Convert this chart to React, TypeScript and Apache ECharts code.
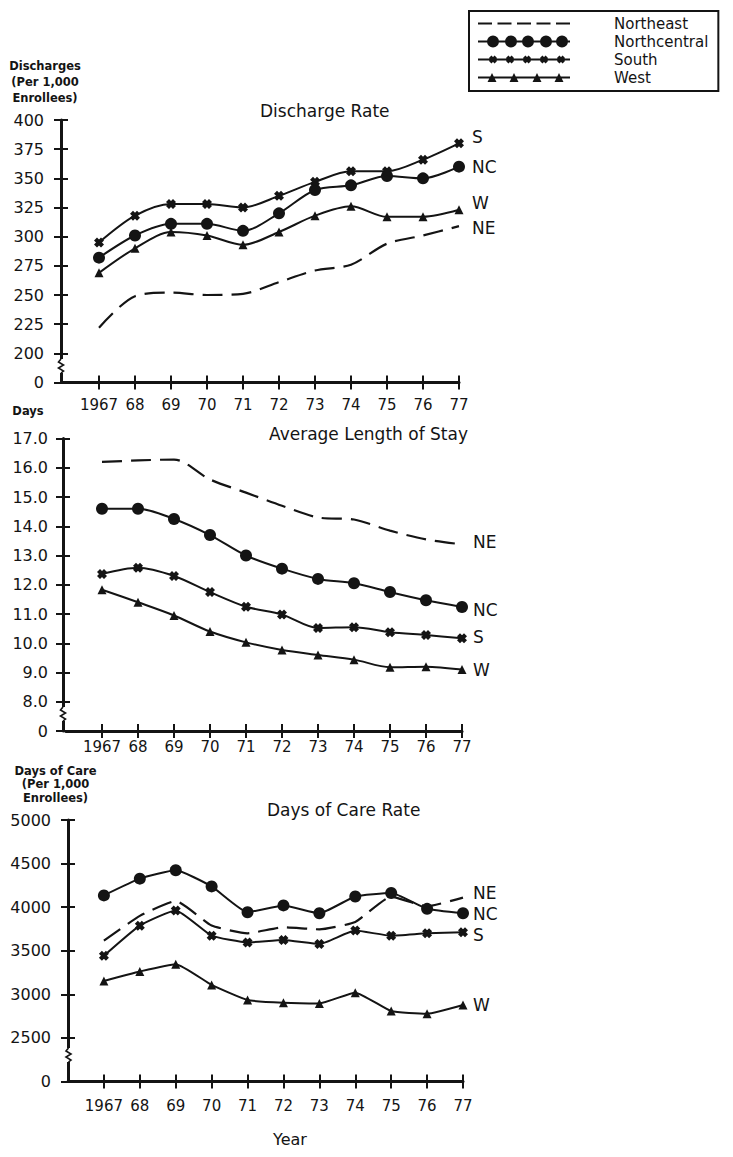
import React, { useEffect, useRef } from 'react';
import * as echarts from 'echarts';

// ---------- data ----------
const years = [1967, 1968, 1969, 1970, 1971, 1972, 1973, 1974, 1975, 1976, 1977];
const yearLabels = ['1967', '68', '69', '70', '71', '72', '73', '74', '75', '76', '77'];

const seriesNames = ['Northeast', 'Northcentral', 'South', 'West'];
const seriesShort = ['NE', 'NC', 'S', 'W'];

// Discharge Rate (per 1,000 enrollees)
const dischNE = [222, 249, 252, 250, 251, 261, 271, 276, 294, 301, 309];
const dischNC = [282, 301, 311, 311, 305, 320, 340, 344, 352, 350, 360];
const dischS = [295, 318, 328, 328, 325, 335, 347, 356, 356, 366, 380];
const dischW = [269, 290, 304, 301, 293, 304, 318, 326, 317, 317, 323];
const dischTickValues = [175, 200, 225, 250, 275, 300, 325, 350, 375, 400];
const dischTickLabels = ['0', '200', '225', '250', '275', '300', '325', '350', '375', '400'];

// Average Length of Stay (days)
const alosNE = [16.2, 16.25, 16.28, 15.6, 15.15, 14.7, 14.3, 14.23, 13.85, 13.55, 13.38];
const alosNC = [14.6, 14.6, 14.25, 13.7, 13.0, 12.55, 12.2, 12.05, 11.75, 11.47, 11.24];
const alosS = [12.37, 12.58, 12.3, 11.75, 11.25, 10.98, 10.52, 10.55, 10.38, 10.28, 10.17];
const alosW = [11.83, 11.4, 10.95, 10.4, 10.03, 9.77, 9.6, 9.44, 9.18, 9.2, 9.1];
const alosTickValues = [7, 8, 9, 10, 11, 12, 13, 14, 15, 16, 17];
const alosTickLabels = ['0', '8.0', '9.0', '10.0', '11.0', '12.0', '13.0', '14.0', '15.0', '16.0', '17.0'];

// Days of Care Rate (per 1,000 enrollees)
const docNE = [3615, 3900, 4070, 3790, 3700, 3770, 3745, 3830, 4120, 4010, 4110];
const docNC = [4135, 4327, 4423, 4238, 3942, 4020, 3930, 4123, 4162, 3981, 3930];
const docS = [3442, 3788, 3962, 3673, 3596, 3623, 3577, 3731, 3673, 3700, 3711];
const docW = [3154, 3262, 3346, 3108, 2935, 2904, 2896, 3019, 2808, 2777, 2877];
const docTickValues = [2000, 2500, 3000, 3500, 4000, 4500, 5000];
const docTickLabels = ['0', '2500', '3000', '3500', '4000', '4500', '5000'];

// ---------- styling ----------
const FONT = 'DejaVu Sans';
const INK = '#141414';

const southSymbol = 'path://M-1.6,-4L4,1.6L1.6,4L-4,-1.6ZM1.6,-4L4,-1.6L-1.6,4L-4,1.6Z';
const symbols = ['none', 'circle', southSymbol, 'triangle'];
const symbolSizes = [0, 12, 10, 9];

const anchors = 'M0 0h0.01v0.01h-0.01zM91.99 11.99h0.01v0.01h-0.01z';
const lineRect = 'M0 5H92V7H0Z';
const legendIcons = [
  'path://' + anchors + [0, 19.5, 39, 58.5, 78].map((x) => `M${x} 5h14v2h-14z`).join(''),
  'path://' + lineRect + [15, 33, 50, 68, 84].map((cx) => `M${cx - 6} 6a6 6 0 1 1 12 0a6 6 0 1 1 -12 0Z`).join(''),
  'path://' + anchors + lineRect +
    [15, 32, 49, 66, 83]
      .map((cx) => `M${cx - 1.6} 2L${cx + 4} 7.6L${cx + 1.6} 10L${cx - 4} 4.4ZM${cx + 1.6} 2L${cx + 4} 4.4L${cx - 1.6} 10L${cx - 4} 7.6Z`)
      .join(''),
  'path://' + anchors + lineRect + [14, 36, 59, 81].map((cx) => `M${cx} 1.5L${cx + 4.5} 10.5L${cx - 4.5} 10.5Z`).join(''),
];

type ChartDef = {
  grid: { left: number; top: number; width: number; height: number };
  yOffset: number;
  min: number;
  max: number;
  interval: number;
  tickValues: number[];
  tickLabels: string[];
  values: number[][];
  smooth: number;
  xLabelMargin: number;
  yLabelMargin: number;
  endOffsets: number[];
  endDistance: number;
};

const charts: ChartDef[] = [
  {
    grid: { left: 63, top: 120, width: 396, height: 262.5 },
    yOffset: 2,
    min: 175, max: 400, interval: 25,
    tickValues: dischTickValues, tickLabels: dischTickLabels,
    values: [dischNE, dischNC, dischS, dischW],
    smooth: 0.3, xLabelMargin: 15, yLabelMargin: 17,
    endOffsets: [2, 0, -6, -7], endDistance: 13,
  },
  {
    grid: { left: 66, top: 438.5, width: 396, height: 292.5 },
    yOffset: 3,
    min: 7, max: 17, interval: 1,
    tickValues: alosTickValues, tickLabels: alosTickLabels,
    values: [alosNE, alosNC, alosS, alosW],
    smooth: 0.3, xLabelMargin: 8, yLabelMargin: 15,
    endOffsets: [-2.5, 3, -1, 0], endDistance: 11,
  },
  {
    grid: { left: 68, top: 820, width: 395, height: 261.5 },
    yOffset: 0,
    min: 2000, max: 5000, interval: 500,
    tickValues: docTickValues, tickLabels: docTickLabels,
    values: [docNE, docNC, docS, docW],
    smooth: 0.15, xLabelMargin: 17, yLabelMargin: 17,
    endOffsets: [-5, 1, 3, 0], endDistance: 10,
  },
];

const titles = [
  { text: 'Discharge Rate', left: 260, top: 102 },
  { text: 'Average Length of Stay', left: 269, top: 425 },
  { text: 'Days of Care Rate', left: 267, top: 801 },
];

function buildOption() {
  const grid: any[] = [];
  const xAxis: any[] = [];
  const yAxis: any[] = [];
  const series: any[] = [];

  charts.forEach((c, g) => {
    grid.push({ ...c.grid, containLabel: false });
    const xBase = {
      type: 'value', gridIndex: g, min: 1966, max: 1977, interval: 1, position: 'bottom',
      splitLine: { show: false },
    };
    xAxis.push({
      ...xBase,
      axisLine: { show: true, lineStyle: { color: INK, width: 3 } },
      axisTick: { show: true, length: 7, customValues: years, lineStyle: { color: INK, width: 2 } },
      axisLabel: {
        show: true, customValues: years, margin: c.xLabelMargin,
        color: INK, fontSize: 15, fontFamily: FONT,
        formatter: (v: number) => {
          const i = years.indexOf(Math.round(v));
          return i >= 0 ? yearLabels[i] : '';
        },
      },
    });
    xAxis.push({
      ...xBase,
      axisLine: { show: false },
      axisTick: { show: true, inside: true, length: 7, customValues: years, lineStyle: { color: INK, width: 2 } },
      axisLabel: { show: false },
    });
    const yBase = {
      type: 'value', gridIndex: g, min: c.min, max: c.max, interval: c.interval,
      position: 'left', offset: c.yOffset, splitLine: { show: false },
    };
    yAxis.push({
      ...yBase,
      axisLine: { show: true, lineStyle: { color: INK, width: 3 } },
      axisTick: { show: true, length: 7, lineStyle: { color: INK, width: 2 } },
      axisLabel: {
        show: true, margin: c.yLabelMargin, color: INK, fontSize: 16, fontFamily: FONT,
        formatter: (v: number) => {
          const i = c.tickValues.findIndex((t) => Math.abs(t - v) < 1e-6);
          return i >= 0 ? c.tickLabels[i] : '';
        },
      },
    });
    yAxis.push({
      ...yBase,
      axisLine: { show: false },
      axisTick: { show: true, inside: true, length: 7, lineStyle: { color: INK, width: 2 } },
      axisLabel: { show: false },
    });

    c.values.forEach((vals, s) => {
      series.push({
        type: 'line',
        name: seriesNames[s],
        xAxisIndex: 2 * g,
        yAxisIndex: 2 * g,
        data: years.map((y, i) => [y, vals[i]]),
        symbol: symbols[s],
        symbolSize: symbolSizes[s],
        showSymbol: s !== 0,
        smooth: c.smooth,
        z: s === 0 ? 2 : 3,
        lineStyle: { color: INK, width: s === 0 ? 2.2 : 2, type: s === 0 ? [20, 9] : 'solid' },
        itemStyle: { color: INK, borderWidth: 0 },
        emphasis: { disabled: true },
        endLabel: {
          show: true,
          formatter: () => seriesShort[s],
          distance: c.endDistance,
          offset: [0, c.endOffsets[s]],
          color: INK,
          fontSize: 17,
          fontFamily: FONT,
        },
      });
    });
  });

  const textStyle = (size: number, weight: string) => ({
    fill: INK, fontSize: size, fontWeight: weight, fontFamily: FONT,
  });

  const breakMark = (x: number, y: number) => [
    { type: 'rect', z: 100, shape: { x: x - 4, y: y - 1, width: 8, height: 14 }, style: { fill: '#fff' } },
    {
      type: 'polyline', z: 101,
      shape: { points: [[x, y - 1], [x - 2.5, y + 2], [x + 2.5, y + 5], [x - 2.5, y + 8], [x + 2.5, y + 11], [x, y + 13]] },
      style: { stroke: INK, lineWidth: 1.6, fill: null },
    },
  ];

  const graphic: any[] = [
    {
      type: 'text', x: 45, y: 57.5, z: 100,
      style: {
        text: 'Discharges\n(Per 1,000\nEnrollees)', textAlign: 'center', align: 'center',
        textVerticalAlign: 'top', verticalAlign: 'top', lineHeight: 16, ...textStyle(11.5, 'bold'),
      },
    },
    {
      type: 'text', x: 28, y: 411, z: 100,
      style: {
        text: 'Days', textAlign: 'center', align: 'center',
        textVerticalAlign: 'middle', verticalAlign: 'middle', ...textStyle(11.5, 'bold'),
      },
    },
    {
      type: 'text', x: 55.5, y: 764, z: 100,
      style: {
        text: 'Days of Care\n(Per 1,000\nEnrollees)', textAlign: 'center', align: 'center',
        textVerticalAlign: 'top', verticalAlign: 'top', lineHeight: 13.5, ...textStyle(11.5, 'bold'),
      },
    },
    {
      type: 'text', x: 290, y: 1139, z: 100,
      style: {
        text: 'Year', textAlign: 'center', align: 'center',
        textVerticalAlign: 'middle', verticalAlign: 'middle', ...textStyle(16, 'normal'),
      },
    },
    ...breakMark(61, 360),
    ...breakMark(63, 708),
    ...breakMark(68.5, 1049),
  ];

  return {
    animation: false,
    backgroundColor: '#ffffff',
    title: titles.map((t) => ({
      text: t.text, left: t.left, top: t.top, padding: 0,
      textStyle: { color: INK, fontSize: 17, fontWeight: 'normal', fontFamily: FONT },
    })),
    legend: {
      show: true,
      orient: 'vertical',
      left: 469,
      top: 11,
      itemWidth: 92,
      itemHeight: 12,
      itemGap: 3,
      padding: [5, 10, 6, 9],
      borderColor: INK,
      borderWidth: 2,
      selectedMode: false,
      itemStyle: { borderWidth: 0 },
      textStyle: { color: INK, fontSize: 15, fontFamily: FONT, padding: [0, 0, 0, 39] },
      data: seriesNames.map((n, i) => ({ name: n, icon: legendIcons[i] })),
    },
    grid,
    xAxis,
    yAxis,
    series,
    graphic,
  };
}

export default function App() {
  const ref = useRef<HTMLDivElement>(null);
  useEffect(() => {
    if (!ref.current) return;
    const chart = echarts.init(ref.current, null, { renderer: 'svg' });
    chart.setOption(buildOption() as any);
    return () => chart.dispose();
  }, []);
  return (
    <div
      ref={ref}
      style={{ position: 'fixed', left: 0, top: 0, width: 733, height: 1157, background: '#fff' }}
    />
  );
}
